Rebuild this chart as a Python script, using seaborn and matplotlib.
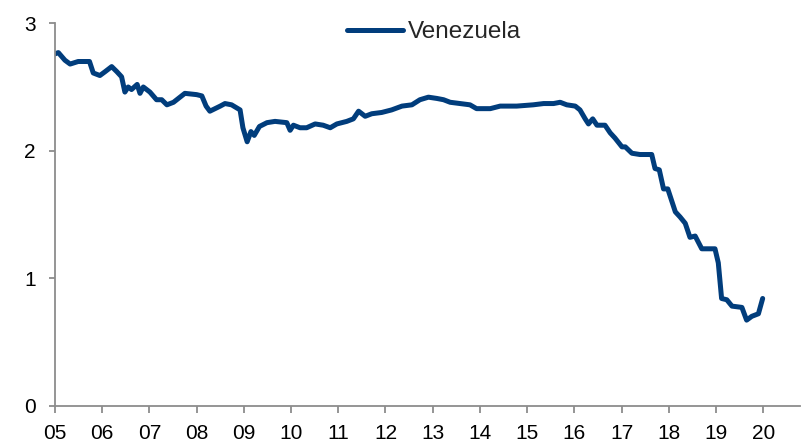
import matplotlib
matplotlib.use("Agg")
import matplotlib.pyplot as plt
import seaborn as sns
import pandas as pd

# Data (decimal year, value)
years = [2005.00, 2005.07, 2005.21, 2005.32, 2005.49, 2005.73, 2005.81, 2005.95,
         2006.06, 2006.20, 2006.31, 2006.41, 2006.48, 2006.55, 2006.62, 2006.74,
         2006.80, 2006.87, 2007.01, 2007.15, 2007.26, 2007.37, 2007.51, 2007.75,
         2008.00, 2008.11, 2008.20, 2008.28, 2008.50, 2008.60, 2008.74, 2008.92,
         2008.98, 2009.07, 2009.15, 2009.22, 2009.33, 2009.49, 2009.66, 2009.91,
         2009.98, 2010.05, 2010.19, 2010.33, 2010.51, 2010.68, 2010.83, 2010.97,
         2011.18, 2011.32, 2011.43, 2011.57, 2011.71, 2011.92, 2012.13, 2012.35,
         2012.56, 2012.73, 2012.91, 2013.09, 2013.23, 2013.37, 2013.58, 2013.79,
         2013.93, 2014.22, 2014.43, 2014.78, 2015.13, 2015.35, 2015.56, 2015.70,
         2015.84, 2016.02, 2016.12, 2016.23, 2016.30, 2016.39, 2016.48, 2016.65,
         2016.76, 2016.86, 2017.01, 2017.08, 2017.22, 2017.39, 2017.64, 2017.71,
         2017.80, 2017.89, 2017.98, 2018.14, 2018.24, 2018.35, 2018.45, 2018.56,
         2018.70, 2018.84, 2018.98, 2019.05, 2019.12, 2019.23, 2019.34, 2019.55,
         2019.65, 2019.76, 2019.90, 2019.99]
venezuela = [2.76, 2.77, 2.71, 2.68, 2.70, 2.70, 2.61, 2.59,
             2.62, 2.66, 2.62, 2.58, 2.46, 2.50, 2.48, 2.52,
             2.45, 2.50, 2.46, 2.40, 2.40, 2.36, 2.38, 2.45,
             2.44, 2.43, 2.35, 2.31, 2.35, 2.37, 2.36, 2.32,
             2.18, 2.07, 2.15, 2.12, 2.19, 2.22, 2.23, 2.22,
             2.16, 2.20, 2.18, 2.18, 2.21, 2.20, 2.18, 2.21,
             2.23, 2.25, 2.31, 2.27, 2.29, 2.30, 2.32, 2.35,
             2.36, 2.40, 2.42, 2.41, 2.40, 2.38, 2.37, 2.36,
             2.33, 2.33, 2.35, 2.35, 2.36, 2.37, 2.37, 2.38,
             2.36, 2.35, 2.32, 2.25, 2.21, 2.25, 2.20, 2.20,
             2.14, 2.10, 2.03, 2.03, 1.98, 1.97, 1.97, 1.86,
             1.85, 1.70, 1.70, 1.52, 1.48, 1.43, 1.32, 1.33,
             1.23, 1.23, 1.23, 1.12, 0.84, 0.83, 0.78, 0.77,
             0.67, 0.70, 0.72, 0.84]
tick_years = list(range(2005, 2021))
tick_labels = ["05", "06", "07", "08", "09", "10", "11", "12", "13", "14",
               "15", "16", "17", "18", "19", "20"]
y_ticks = [0, 1, 2, 3]

df = pd.DataFrame({"year": years, "value": venezuela, "series": "Venezuela"})

sns.set_style("ticks")
plt.rcParams["font.family"] = ["Liberation Sans", "DejaVu Sans"]

fig = plt.figure(figsize=(8.01, 4.46), dpi=100)
ax = fig.add_axes([0.0687, 0.0908, 0.93, 0.857])

sns.lineplot(data=df, x="year", y="value", hue="series", palette=["#013D7C"],
             sort=False, linewidth=3.6, ax=ax, estimator=None)

ax.set_xlim(2005, 2020.78)
ax.set_ylim(0, 3)
ax.set_xticks(tick_years)
ax.set_xticklabels(tick_labels)
ax.set_yticks(y_ticks)
ax.set_xlabel("")
ax.set_ylabel("")

grey = "#8C8C8C"
for side in ["top", "right"]:
    ax.spines[side].set_visible(False)
for side in ["left", "bottom"]:
    ax.spines[side].set_color(grey)
    ax.spines[side].set_linewidth(1.3)
ax.tick_params(axis="both", colors=grey, labelcolor="black", labelsize=15,
               width=1.3, direction="out")
ax.tick_params(axis="x", length=5, pad=8)
ax.tick_params(axis="y", length=4, pad=10)

leg = ax.legend(loc="center", bbox_to_anchor=(0.509, 0.976), frameon=False,
                fontsize=17.5, handlelength=2.3, handletextpad=0.18,
                borderpad=0, borderaxespad=0)
for line in leg.get_lines():
    line.set_linewidth(3.6)

fig.savefig("out.png", dpi=100)
